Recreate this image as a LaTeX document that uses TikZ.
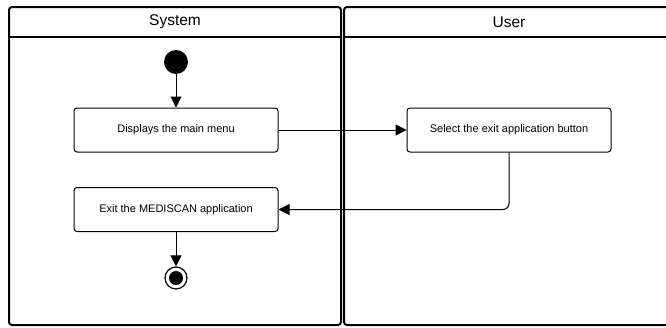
\documentclass[tikz,border=0pt]{standalone}
\usepackage{fontspec}
\setmainfont{Liberation Sans}
\usetikzlibrary{positioning,arrows.meta}

\begin{document}
\begin{tikzpicture}[x=1pt, y=-1pt,
    lane/.style={draw=black, line width=2pt, rounded corners=3pt},
    lanetitle/.style={font=\fontsize{15.5}{18}\selectfont, inner sep=0},
    activity/.style={draw=black, line width=1pt, rounded corners=3pt, minimum width=204pt, minimum height=44pt, inner sep=0, font=\fontsize{11}{13}\selectfont},
    flow/.style={line width=1pt, -{Triangle[length=11pt, width=11pt]}}]
    \useasboundingbox (0,0) rectangle (666,327);
    \clip (0,0) rectangle (666,327);
    \draw[lane] (9,7) rectangle (341,325);
    \draw[lane] (344,7) rectangle (674,325);
    \draw[lane] (9,37) -- (341,37);
    \draw[lane] (344,37) -- (674,37);
    \node[lanetitle] (system) at (175,22) {System};
    \node[lanetitle] (user) at (509,22) {User};
    \node[circle, fill=black, minimum size=24pt, inner sep=0] (start) at (176,62) {};
    \node[activity] (menu) at (176,130) {Displays the main menu};
    \node[activity] (select) at (509,130) {Select the exit application button};
    \node[activity] (exit) at (176,209.5) {Exit the MEDISCAN application};
    \node[circle, draw=black, line width=1.2pt, minimum size=22pt, inner sep=0,
      path picture={\fill[black] (path picture bounding box.center) circle (7pt);}] (end) at (176,278) {};
    \draw[flow] (start) -- (menu);
    \draw[flow] (menu) -- (select);
    \draw[flow, rounded corners=6pt] (select.south) |- (exit.east);
    \draw[flow] (exit) -- (end);
  \end{tikzpicture}
\end{document}
